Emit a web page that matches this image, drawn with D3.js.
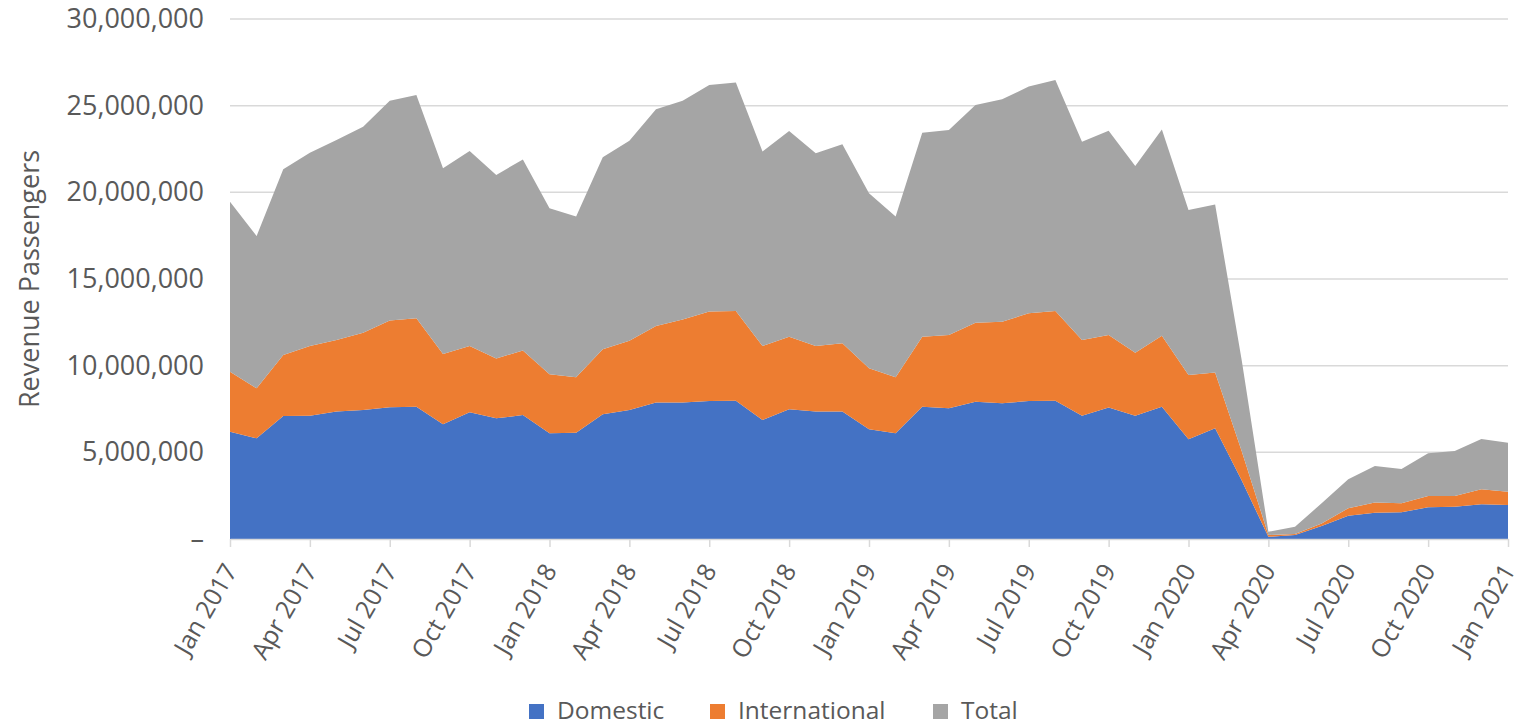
<!DOCTYPE html>
<html>
<head>
<meta charset="utf-8">
<script src="https://cdn.jsdelivr.net/npm/d3@7"></script>
<style>
  html, body { margin: 0; padding: 0; background: #ffffff; }
  svg { display: block; font-family: "Open Sans", "Noto Sans", sans-serif; }
</style>
</head>
<body>
<svg id="chart" width="1524" height="726"></svg>
<script>
// ---- Data ----
const months = [
  "Jan 2017","Feb 2017","Mar 2017","Apr 2017","May 2017","Jun 2017","Jul 2017","Aug 2017","Sep 2017","Oct 2017","Nov 2017","Dec 2017",
  "Jan 2018","Feb 2018","Mar 2018","Apr 2018","May 2018","Jun 2018","Jul 2018","Aug 2018","Sep 2018","Oct 2018","Nov 2018","Dec 2018",
  "Jan 2019","Feb 2019","Mar 2019","Apr 2019","May 2019","Jun 2019","Jul 2019","Aug 2019","Sep 2019","Oct 2019","Nov 2019","Dec 2019",
  "Jan 2020","Feb 2020","Mar 2020","Apr 2020","May 2020","Jun 2020","Jul 2020","Aug 2020","Sep 2020","Oct 2020","Nov 2020","Dec 2020",
  "Jan 2021"
];

const domestic = [
  6190000,5810000,7100000,7110000,7350000,7440000,7600000,7630000,6620000,7310000,6960000,7150000,
  6100000,6130000,7190000,7440000,7870000,7880000,7960000,7980000,6870000,7480000,7350000,7350000,
  6330000,6100000,7630000,7540000,7920000,7830000,7960000,7980000,7110000,7580000,7110000,7630000,
  5750000,6390000,3370000,130000,230000,750000,1340000,1520000,1540000,1830000,1860000,2000000,
  1960000
];

const international = [
  3460000,2880000,3520000,4020000,4130000,4460000,5000000,5100000,4050000,3820000,3460000,3720000,
  3400000,3200000,3750000,4000000,4420000,4790000,5160000,5170000,4260000,4190000,3780000,3940000,
  3520000,3230000,4040000,4230000,4560000,4710000,5060000,5170000,4370000,4190000,3640000,4100000,
  3710000,3210000,1690000,100000,60000,150000,430000,580000,520000,650000,620000,870000,
  770000
];

const total = [
  9810000,8790000,10710000,11160000,11540000,11890000,12690000,12890000,10720000,11250000,10580000,11030000,
  9580000,9270000,11080000,11540000,12500000,12620000,13070000,13180000,11220000,11870000,11120000,11480000,
  10090000,9270000,11770000,11830000,12560000,12830000,13080000,13330000,11440000,11790000,10770000,11900000,
  9520000,9700000,5240000,190000,420000,1160000,1670000,2110000,1980000,2460000,2600000,2900000,
  2830000
];

const tickLabels = [
  "Jan 2017","Apr 2017","Jul 2017","Oct 2017","Jan 2018","Apr 2018","Jul 2018","Oct 2018",
  "Jan 2019","Apr 2019","Jul 2019","Oct 2019","Jan 2020","Apr 2020","Jul 2020","Oct 2020","Jan 2021"
];

const yTicks = [0, 5000000, 10000000, 15000000, 20000000, 25000000, 30000000];

const seriesNames = ["Domestic", "International", "Total"];
const seriesColors = ["#4472C4", "#ED7D31", "#A5A5A5"];

// ---- Build table ----
const rows = months.map((m, i) => ({
  month: m,
  Domestic: domestic[i],
  International: international[i],
  Total: total[i]
}));

const svg = d3.select("#chart");
const plotLeft = 230, plotRight = 1508, plotTop = 19, plotBottom = 539;

const x = d3.scalePoint().domain(months).range([plotLeft, plotRight]).padding(0);
const y = d3.scaleLinear().domain([0, 30000000]).range([plotBottom, plotTop]);

// gridlines
svg.append("g")
  .selectAll("line")
  .data(yTicks.filter(d => d > 0))
  .join("line")
  .attr("x1", plotLeft).attr("x2", plotRight)
  .attr("y1", d => y(d)).attr("y2", d => y(d))
  .attr("stroke", "#d9d9d9")
  .attr("stroke-width", 1.5);

// stacked areas
const stack = d3.stack().keys(seriesNames);
const layers = stack(rows);
const area = d3.area()
  .x(d => x(d.data.month))
  .y0(d => y(d[0]))
  .y1(d => y(d[1]));

svg.append("g")
  .selectAll("path")
  .data(layers)
  .join("path")
  .attr("d", area)
  .attr("fill", (d, i) => seriesColors[i]);

// y axis labels
const fmt = d3.format(",");
const yAxis = d3.axisLeft(y)
  .tickValues(yTicks)
  .tickSize(0)
  .tickPadding(0)
  .tickFormat(d => d === 0 ? "–" : fmt(d));
const yg = svg.append("g")
  .attr("transform", `translate(204,0)`)
  .call(yAxis);
yg.select(".domain").remove();
yg.selectAll("text")
  .attr("font-family", "'Open Sans', sans-serif")
  .attr("font-size", 27)
  .attr("fill", "#595959");

// x axis
const xAxis = d3.axisBottom(x)
  .tickValues(tickLabels)
  .tickSize(8)
  .tickSizeOuter(0)
  .tickFormat(d => d);
const xg = svg.append("g")
  .attr("transform", `translate(0,${plotBottom})`)
  .call(xAxis);
xg.select(".domain").attr("stroke", "#d9d9d9").attr("stroke-width", 1.5);
xg.selectAll(".tick line").attr("stroke", "#d9d9d9").attr("stroke-width", 1.5);
xg.selectAll("text")
  .attr("font-family", "'Open Sans', sans-serif")
  .attr("font-size", 25)
  .attr("fill", "#595959")
  .attr("text-anchor", "end")
  .attr("dy", "0.35em")
  .attr("y", 0)
  .attr("transform", "translate(0,27) rotate(-60)");

// y axis title
svg.append("text")
  .attr("transform", "translate(30,279) rotate(-90)")
  .attr("text-anchor", "middle")
  .attr("dy", "0.35em")
  .attr("font-size", 27)
  .attr("fill", "#595959")
  .text("Revenue Passengers");

// legend
const legendX = [529, 710, 933];
const lg = svg.append("g");
seriesNames.forEach((name, i) => {
  lg.append("rect")
    .attr("x", legendX[i]).attr("y", 704)
    .attr("width", 15).attr("height", 15)
    .attr("fill", seriesColors[i]);
  lg.append("text")
    .attr("x", legendX[i] + 28).attr("y", 719)
    .attr("font-size", 24.5)
    .attr("fill", "#595959")
    .text(name);
});
</script>
</body>
</html>
